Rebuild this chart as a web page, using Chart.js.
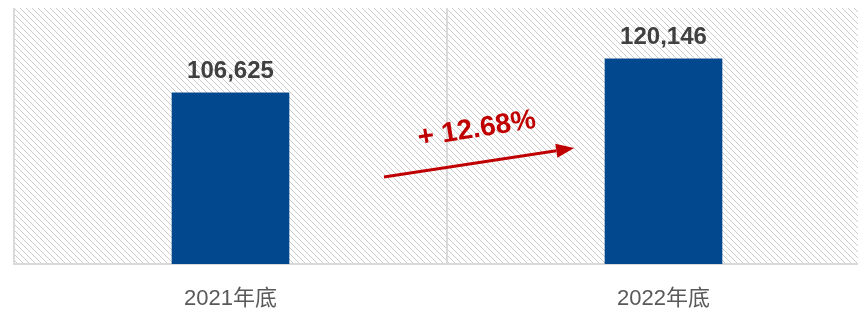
<!DOCTYPE html>
<html>
<head>
<meta charset="utf-8">
<script src="https://cdn.jsdelivr.net/npm/chart.js@4"></script>
<style>
html,body{margin:0;padding:0;background:#fff;overflow:hidden;}
#wrap{width:882px;height:313px;position:relative;}
</style>
</head>
<body>
<div id="wrap"><canvas id="c"></canvas></div>
<script>
const categories = ['2021年底', '2022年底'];
const values = [106625, 120146];
const valueLabels = ['106,625', '120,146'];
const growthLabel = '+ 12.68%';

const FONT = "'Liberation Sans', Arial, 'Noto Sans CJK SC', sans-serif";

function makeHatch() {
  const s = 6;
  const c = document.createElement('canvas');
  c.width = s; c.height = s;
  const g = c.getContext('2d');
  g.strokeStyle = '#cbcbcb';
  g.lineWidth = 1;
  g.beginPath();
  g.moveTo(-1, -1); g.lineTo(s + 1, s + 1);
  g.moveTo(-1, s - 1); g.lineTo(1, s + 1);
  g.moveTo(s - 1, -1); g.lineTo(s + 1, 1);
  g.stroke();
  return c;
}

const hatchPlugin = {
  id: 'hatch',
  beforeDraw(chart) {
    const {ctx, chartArea: a} = chart;
    ctx.save();
    ctx.fillStyle = '#ffffff';
    ctx.fillRect(0, 0, chart.width, chart.height);
    ctx.fillStyle = ctx.createPattern(makeHatch(), 'repeat');
    ctx.fillRect(a.left, a.top, a.right - a.left, a.bottom - a.top);
    ctx.restore();
  }
};

const labelPlugin = {
  id: 'labels',
  afterDatasetsDraw(chart) {
    const {ctx, chartArea: a} = chart;
    const meta = chart.getDatasetMeta(0);
    ctx.save();
    ctx.font = 'bold 24px ' + FONT;
    ctx.fillStyle = '#404040';
    ctx.textAlign = 'center';
    ctx.textBaseline = 'alphabetic';
    meta.data.forEach((bar, i) => {
      ctx.fillText(valueLabels[i], bar.x, bar.y - 15);
    });
    // growth arrow
    const w = a.right - a.left;
    const x0 = a.left + w * 0.4272, y0 = 177;
    const x1 = a.left + w * 0.6468, y1 = 148;
    const ang = Math.atan2(y1 - y0, x1 - x0);
    ctx.strokeStyle = '#C00000';
    ctx.fillStyle = '#C00000';
    ctx.lineWidth = 3;
    ctx.beginPath();
    const hl = 18;
    ctx.moveTo(x0, y0);
    ctx.lineTo(x1 - hl * Math.cos(ang), y1 - hl * Math.sin(ang));
    ctx.stroke();
    ctx.beginPath();
    ctx.moveTo(x1, y1);
    ctx.lineTo(x1 - hl * Math.cos(ang) + 7 * Math.sin(ang), y1 - hl * Math.sin(ang) - 7 * Math.cos(ang));
    ctx.lineTo(x1 - hl * Math.cos(ang) - 7 * Math.sin(ang), y1 - hl * Math.sin(ang) + 7 * Math.cos(ang));
    ctx.closePath();
    ctx.fill();
    // growth text
    ctx.translate(a.left + w * 0.5358, 137);
    ctx.rotate(-9 * Math.PI / 180);
    ctx.font = 'bold 28px ' + FONT;
    ctx.textAlign = 'center';
    ctx.fillText(growthLabel, 0, 0);
    ctx.restore();
  }
};

new Chart(document.getElementById('c'), {
  type: 'bar',
  data: {
    labels: categories,
    datasets: [{
      data: values,
      backgroundColor: '#02488F',
      barThickness: 117
    }]
  },
  options: {
    responsive: true,
    maintainAspectRatio: false,
    animation: false,
    layout: {padding: {left: 14, top: 8, right: 2, bottom: 0}},
    plugins: {legend: {display: false}, tooltip: {enabled: false}},
    scales: {
      x: {
        afterFit(scale) { scale.height = 49; },
        grid: {display: true, color: '#d9d9d9', lineWidth: 2, drawTicks: false, offset: true},
        border: {display: true, color: '#d9d9d9', width: 2},
        ticks: {color: '#595959', font: {family: FONT, size: 22}, padding: 22}
      },
      y: {
        display: false,
        min: 38600,
        max: 140400
      }
    }
  },
  plugins: [hatchPlugin, labelPlugin]
});
</script>
</body>
</html>
